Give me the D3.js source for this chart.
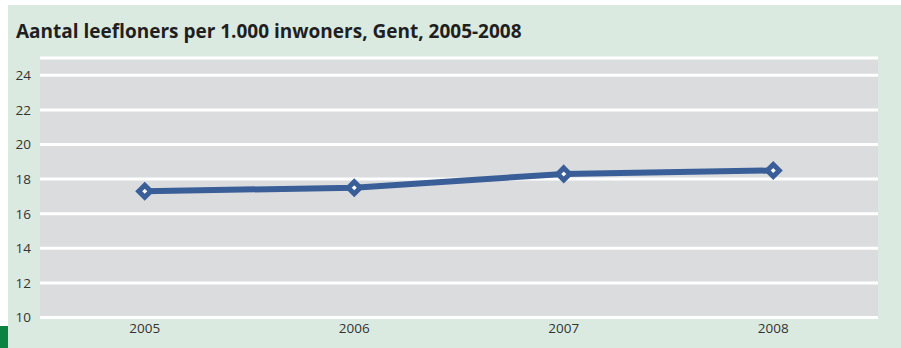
<!DOCTYPE html>
<html>
<head>
<meta charset="utf-8">
<script src="https://cdn.jsdelivr.net/npm/d3@7"></script>
<style>
  html, body { margin: 0; padding: 0; background: #ffffff; }
  svg { display: block; }
</style>
</head>
<body>
<svg id="chart" width="901" height="348"></svg>
<script>
// Data
const years = ["2005", "2006", "2007", "2008"];
const leefloners = [17.3, 17.5, 18.3, 18.5];
const yTicks = [10, 12, 14, 16, 18, 20, 22, 24];
const title = "Aantal leefloners per 1.000 inwoners, Gent, 2005-2008";

const svg = d3.select("#chart");
const W = 901, H = 348;

// Panel background
svg.append("rect").attr("x", 8).attr("y", 5).attr("width", W - 8).attr("height", H - 5)
  .attr("fill", "#dbeae0");
svg.append("rect").attr("x", 0).attr("y", 326).attr("width", 8).attr("height", H - 326)
  .attr("fill", "#0b8442");

// Title
const t = svg.append("text").attr("x", 16).attr("y", 38)
  .attr("font-family", "'Open Sans', sans-serif").attr("font-weight", 700)
  .attr("font-size", 17).attr("fill", "#1f1f1f").text(title);
const tw = t.node().getComputedTextLength();
t.attr("font-size", 17 * 506 / tw);

// Plot area
const m = { left: 40, right: 878, top: 58, bottom: 317.5 };
const x = d3.scaleBand().domain(years).range([m.left, m.right]);
const y = d3.scaleLinear().domain([10, 25]).range([m.bottom, m.top]);

svg.append("rect").attr("x", m.left).attr("y", m.top)
  .attr("width", m.right - m.left).attr("height", m.bottom - m.top)
  .attr("fill", "#dbdcde");

// Grid lines
const grid = svg.append("g");
grid.selectAll("line").data(yTicks.concat([25])).join("line")
  .attr("x1", m.left).attr("x2", m.right)
  .attr("y1", d => y(d)).attr("y2", d => y(d))
  .attr("stroke", "#ffffff").attr("stroke-width", 3);

// Y axis
const yAxis = svg.append("g").attr("transform", `translate(${m.left},0)`)
  .call(d3.axisLeft(y).tickValues(yTicks).tickSize(0).tickPadding(9));
yAxis.select(".domain").remove();
yAxis.selectAll("text").attr("font-family", "'Open Sans', sans-serif")
  .attr("font-size", 13.5).attr("fill", "#333333");

// X axis
const xAxis = svg.append("g").attr("transform", `translate(0,${m.bottom})`)
  .call(d3.axisBottom(x).tickSize(0).tickPadding(6));
xAxis.select(".domain").remove();
xAxis.selectAll("text").attr("font-family", "'Open Sans', sans-serif")
  .attr("font-size", 13.5).attr("fill", "#333333");

// Series line
const cx = d => x(d) + x.bandwidth() / 2;
const pts = years.map((yr, i) => [cx(yr), y(leefloners[i])]);
svg.append("path").datum(pts)
  .attr("d", d3.line())
  .attr("fill", "none").attr("stroke", "#3a5e98").attr("stroke-width", 6)
  .attr("stroke-linejoin", "round");

// Diamond markers
svg.selectAll(".marker").data(pts).join("path").attr("class", "marker")
  .attr("transform", d => `translate(${d[0]},${d[1]})`)
  .attr("d", "M0,-6 L6,0 L0,6 L-6,0 Z")
  .attr("fill", "#ffffff").attr("stroke", "#3a5e98").attr("stroke-width", 5)
  .attr("stroke-linejoin", "miter");
</script>
</body>
</html>
